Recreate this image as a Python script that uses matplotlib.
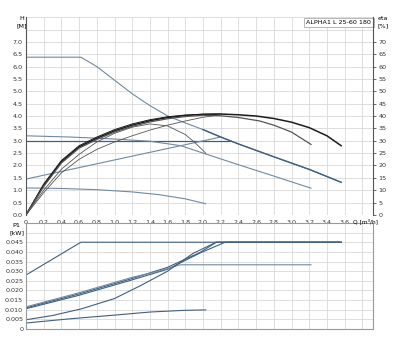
import matplotlib.pyplot as plt
import numpy as np

# flow axis [m3/h]
q_max = [0, 0.62, 0.8, 1.0, 1.2, 1.4, 1.6, 1.8, 2.0, 2.2, 2.4, 2.8, 3.2, 3.56]
h_max = [6.38, 6.38, 6.0, 5.45, 4.9, 4.42, 4.0, 3.72, 3.45, 3.15, 2.87, 2.35, 1.84, 1.32]

q_cp = [0, 2.3]
h_cp = [3.0, 3.0]

q_mid = [0, 0.5, 1.0, 1.4, 1.75, 2.0, 2.4, 2.8, 3.22]
h_mid = [3.2, 3.15, 3.07, 2.98, 2.8, 2.5, 2.03, 1.57, 1.08]

q_pp = [0, 2.2]
h_pp = [1.45, 3.15]

q_low = [0, 0.4, 0.8, 1.2, 1.5, 1.8, 2.03]
h_low = [1.09, 1.07, 1.02, 0.93, 0.82, 0.65, 0.45]

# efficiency curves [%]
q_eta = [0, 0.2, 0.4, 0.6, 0.8, 1.0, 1.2, 1.4, 1.6, 1.8, 2.0, 2.2, 2.4, 2.6, 2.8, 3.0, 3.2, 3.4, 3.56]
eta_max = [0, 12, 21.5, 27.5, 31, 34, 36.3, 38.1, 39.4, 40.2, 40.7, 40.8, 40.5, 40, 39, 37.5, 35.3, 32, 28]
eta_cp = [0, 12.5, 22, 28, 31.5, 34.5, 36.8, 38.5, 39.7, 40.4, 40.7, 40.8]
eta_pp = [0, 9, 17, 22.5, 26.5, 29.5, 32, 34.3, 36.3, 38, 39.5, 40.5]
q_eta_mid = [0, 0.2, 0.4, 0.6, 0.8, 1.0, 1.2, 1.4, 1.6, 1.8, 2.0, 2.2, 2.4, 2.64, 2.8, 3.0, 3.22]
eta_mid = [0, 11.5, 21, 27, 30.5, 33.5, 35.8, 37.6, 38.9, 39.8, 40.3, 40.1, 39.4, 38, 36.3, 33.5, 28.5]
q_eta_low = [0, 0.2, 0.4, 0.6, 0.8, 1.0, 1.2, 1.4, 1.6, 1.8, 1.9, 2.03]
eta_low = [0, 10, 18.5, 24.5, 29.5, 33, 35.5, 36.8, 36, 32.5, 29.5, 25]

# power curves [kW]
q_p_max = [0, 0.62, 3.56]
p_max = [0.028, 0.045, 0.045]
q_p_cp = [0, 0.6, 1.2, 1.6, 1.97, 2.25, 3.56]
p_cp = [0.0105, 0.0175, 0.0255, 0.031, 0.0395, 0.045, 0.045]
q_p_cp2 = [0, 0.6, 1.2, 1.6, 1.97, 2.15, 3.56]
p_cp2 = [0.011, 0.0182, 0.0262, 0.032, 0.0398, 0.045, 0.045]
q_p_mid = [0, 0.6, 1.2, 1.5, 1.74, 3.22]
p_mid = [0.0115, 0.0188, 0.0268, 0.030, 0.0333, 0.0333]
q_p_pp = [0, 0.3, 0.63, 1.0, 1.29, 1.6, 1.89, 2.15, 3.56]
p_pp = [0.0048, 0.007, 0.0105, 0.0158, 0.0224, 0.030, 0.0393, 0.045, 0.045]
q_p_low = [0, 0.5, 1.0, 1.4, 1.8, 2.03]
p_low = [0.0031, 0.0053, 0.0072, 0.0088, 0.0097, 0.0099]

blue = '#40607f'
lblue = '#6f8aa3'
dark = '#1c1c1c'
grey = '#555555'
grid_c = '#d9d9d9'
fs = 4.6

fig = plt.figure(figsize=(4, 3.5), dpi=100)

# ---- H / eta panel
ax = fig.add_axes([0.065, 0.386, 0.8675, 0.565])
ax.set_xlim(0, 3.92)
ax.set_ylim(0, 8)
ax.set_xticks(np.arange(0, 3.81, 0.2))
ax.set_xticklabels(['0'] + ['%.1f' % v for v in np.arange(0.2, 3.61, 0.2)] + [''], fontsize=fs)
ax.set_yticks(np.arange(0, 8.01, 0.5))
ax.set_yticklabels(['%.1f' % v if v <= 7.0 else '' for v in np.arange(0, 8.01, 0.5)], fontsize=fs)
ax.grid(True, color=grid_c, lw=0.6)
ax.tick_params(axis='y', length=0, pad=2.5, colors='#333333')
ax.tick_params(axis='x', length=0, pad=3.5, colors='#333333')
for s in ['top', 'right', 'bottom']:
    ax.spines[s].set_visible(False)
ax.spines['left'].set_color('#555555')
ax.spines['left'].set_linewidth(0.8)

ax.plot(q_max, h_max, color=lblue, lw=0.8)
ax.plot(q_cp, h_cp, color=blue, lw=0.9)
ax.plot(q_mid, h_mid, color=lblue, lw=0.8)
ax.plot(q_pp, h_pp, color=lblue, lw=0.8)
ax.plot(q_low, h_low, color=lblue, lw=0.8)
ax.plot(q_max[8:], h_max[8:], color=blue, lw=1.0)

ax2 = ax.twinx()
ax2.set_ylim(0, 80)
ax2.set_yticks(np.arange(0, 71, 5))
ax2.set_yticklabels([str(v) for v in range(0, 71, 5)], fontsize=fs)
ax2.tick_params(length=2, width=0.5, pad=2, colors='#333333')
for s in ['top', 'left', 'bottom']:
    ax2.spines[s].set_visible(False)
ax2.spines['right'].set_color('#555555')
ax2.spines['right'].set_linewidth(0.8)

ax2.plot(q_eta, eta_max, color=dark, lw=1.1)
ax2.plot(q_eta[:12], eta_cp, color=dark, lw=0.7)
ax2.plot(q_eta[:12], eta_pp, color=grey, lw=0.6)
ax2.plot(q_eta_mid, eta_mid, color=grey, lw=0.9)
ax2.plot(q_eta_low, eta_low, color=grey, lw=0.6)

fig.text(0.055, 0.937, 'H\n[M]', fontsize=fs, ha='center', va='center', linespacing=1.4)
fig.text(0.957, 0.937, 'eta\n[%]', fontsize=fs, ha='center', va='center', linespacing=1.4)
fig.text(0.8825, 0.368, 'Q [m³/h]', fontsize=4.2, ha='left', va='center')
ax.text(0.995, 0.985, 'ALPHA1 L 25-60 180', transform=ax.transAxes, fontsize=fs,
        ha='right', va='top', bbox=dict(boxstyle='square,pad=0.35', fc='white', ec='#999999', lw=0.5))

# ---- P1 panel
axp = fig.add_axes([0.065, 0.06, 0.8675, 0.303])
axp.set_xlim(0, 3.92)
axp.set_ylim(0, 0.055)
axp.set_xticks(np.arange(0, 3.81, 0.2))
axp.set_xticklabels([])
axp.set_yticks(np.arange(0, 0.0551, 0.005))
axp.set_yticklabels(['0'] + ['%.3f' % v for v in np.arange(0.005, 0.0451, 0.005)] + ['', ''], fontsize=fs)
axp.grid(True, color=grid_c, lw=0.6)
axp.tick_params(length=0, pad=2, colors='#333333')
for s in axp.spines.values():
    s.set_color('#999999')
    s.set_linewidth(0.8)

axp.plot(q_p_max, p_max, color=blue, lw=0.8)
axp.plot(q_p_cp, p_cp, color=blue, lw=0.8)
axp.plot(q_p_cp2, p_cp2, color=blue, lw=0.8)
axp.plot(q_p_mid, p_mid, color=lblue, lw=0.8)
axp.plot(q_p_pp, p_pp, color=blue, lw=0.8)
axp.plot(q_p_low, p_low, color=blue, lw=0.8)

fig.text(0.042, 0.345, 'P1\n[kW]', fontsize=fs, ha='center', va='center', linespacing=1.4)

plt.savefig('out.png', dpi=100)
